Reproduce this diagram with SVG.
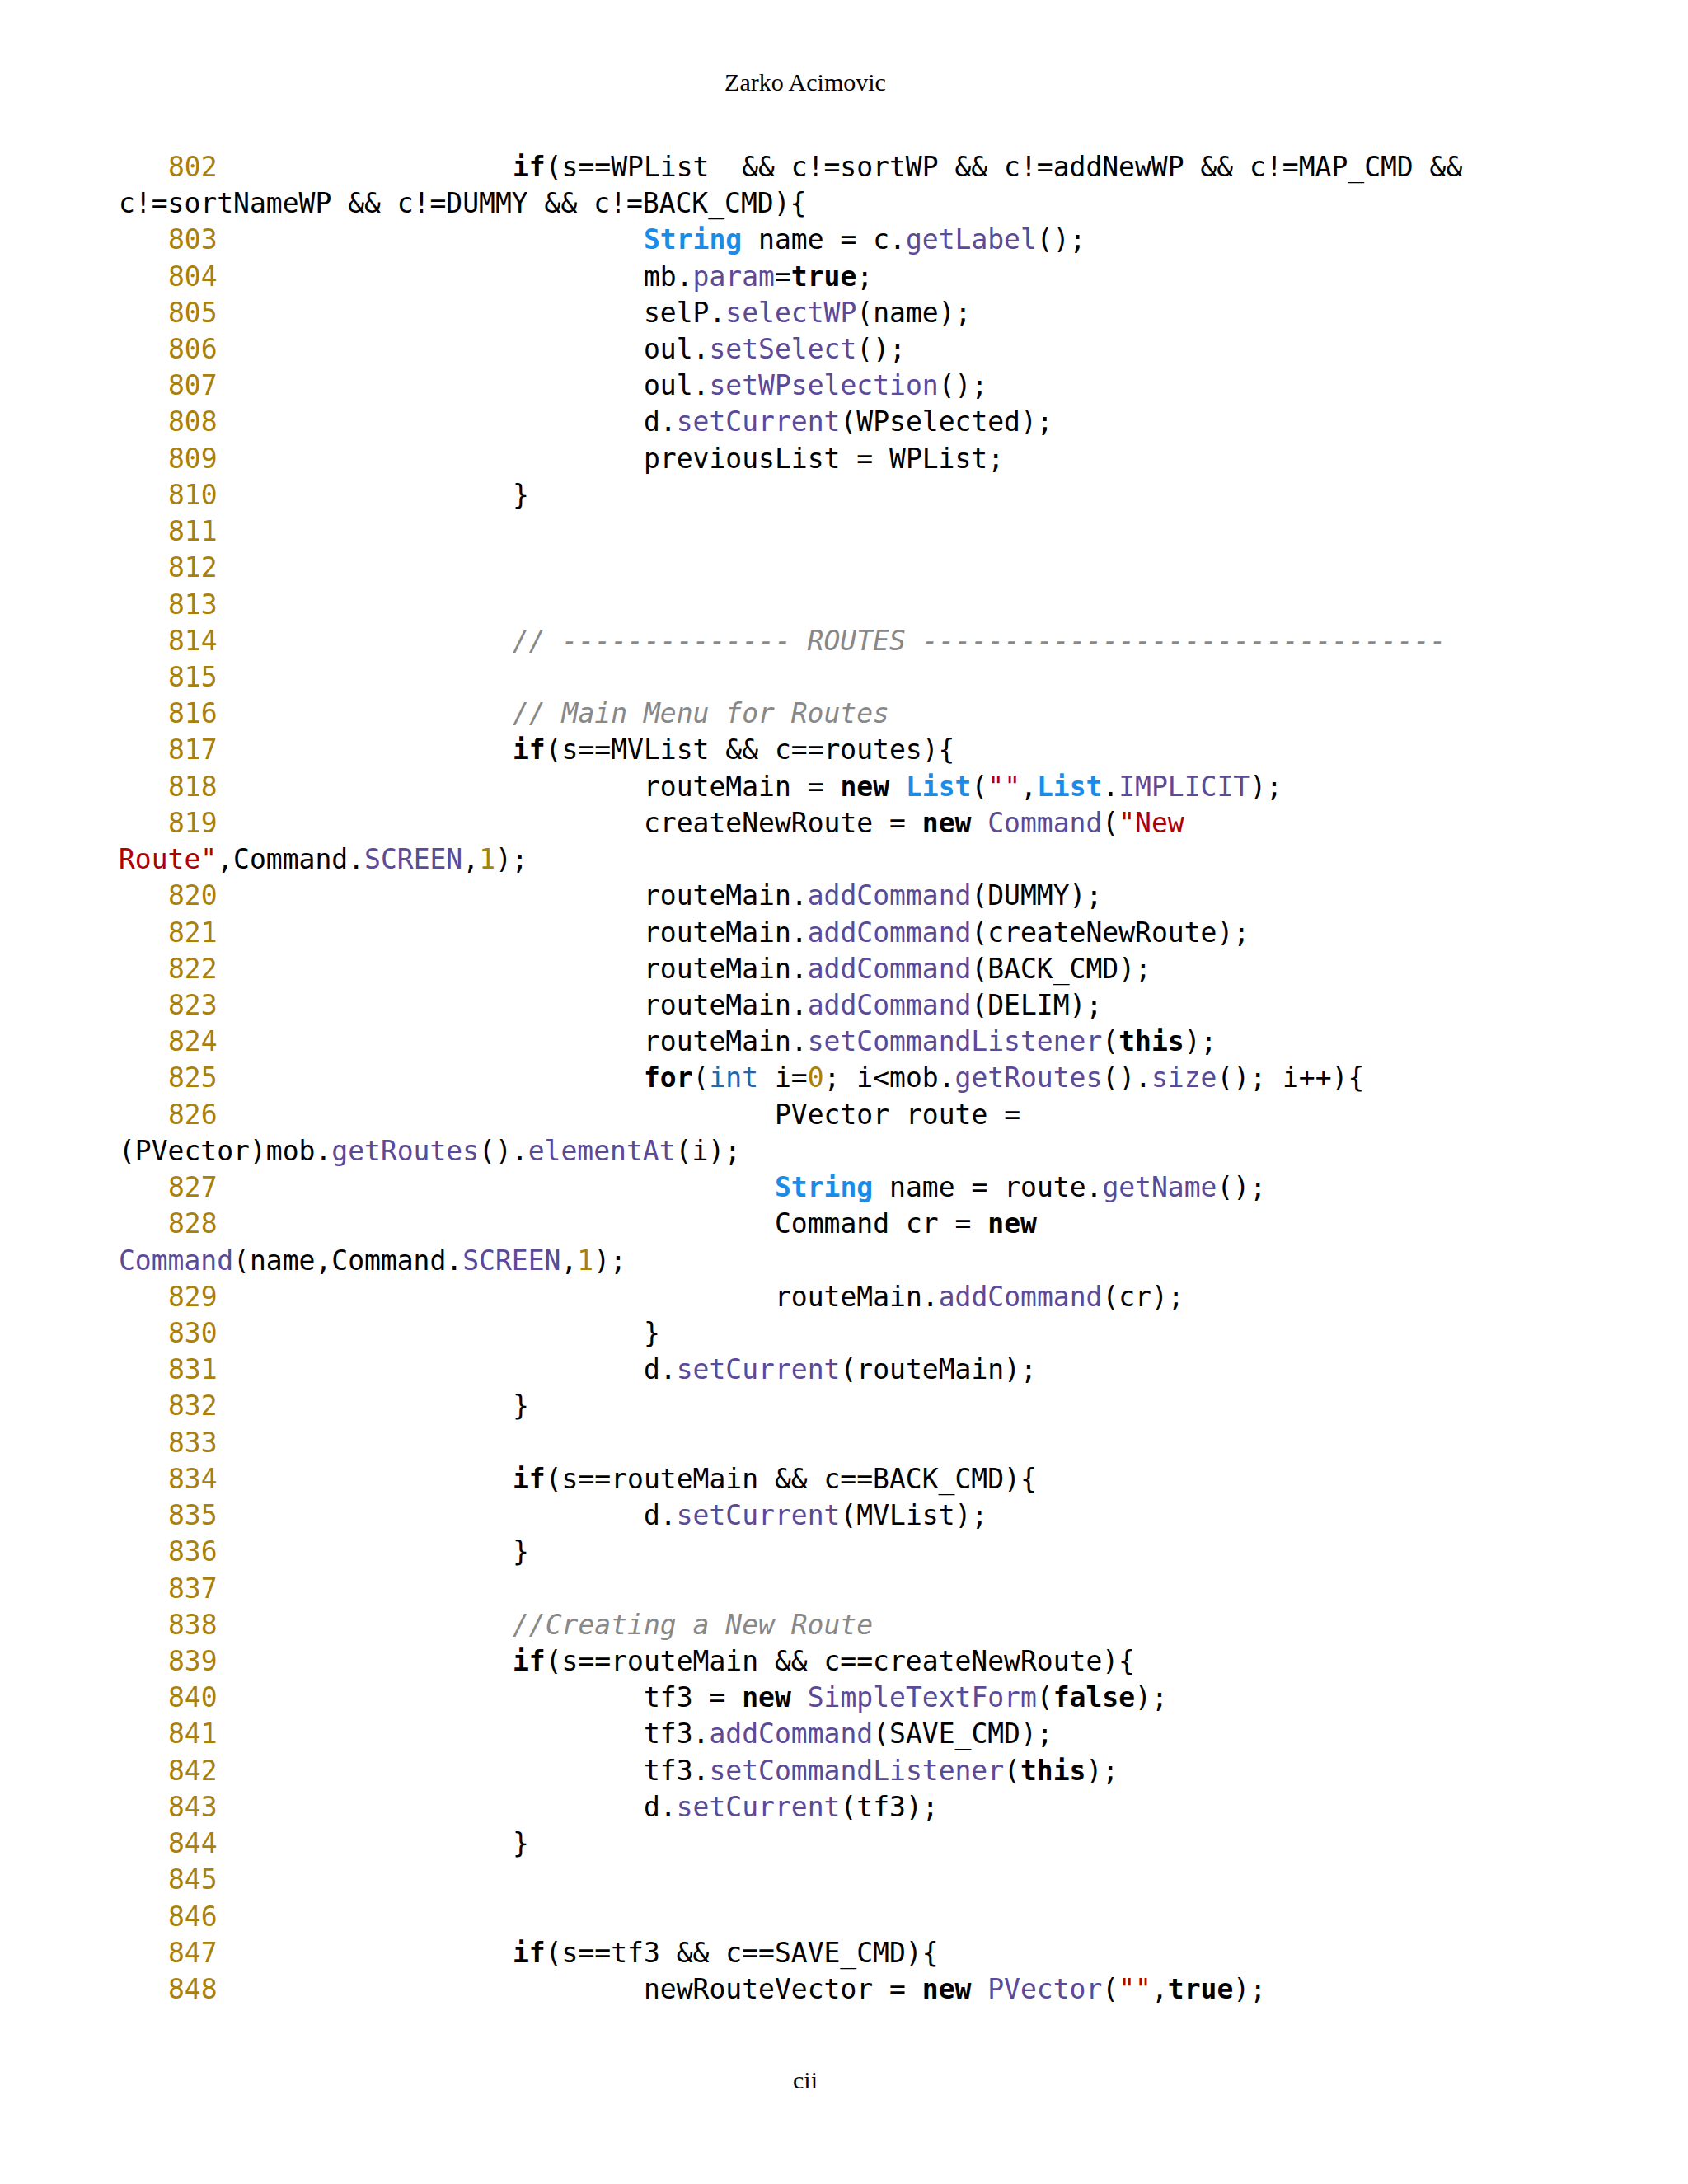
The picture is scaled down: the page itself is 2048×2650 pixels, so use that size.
<svg xmlns="http://www.w3.org/2000/svg" width="2048" height="2650" viewBox="0 0 2048 2650">
<style>
text{font-family:"DejaVu Sans Mono",monospace;font-size:33px;fill:#000;white-space:pre}
.ln{fill:#a8800a}
.n{fill:#a8800a}
.m{fill:#5a4a98}
.k{font-weight:bold}
.t{fill:#1a8ce8;font-weight:bold}
.i{fill:#2a64a8}
.s{fill:#b00000}
.c{fill:#888;font-style:italic}
.hd{font-family:"Liberation Serif",serif;font-size:30px}
</style>
<rect width="2048" height="2650" fill="#fff"/>
<text class="hd" x="977" y="110" text-anchor="middle">Zarko Acimovic</text>
<text class="hd" x="977" y="2534" text-anchor="middle">cii</text>
<g id="code" xml:space="preserve">
<text class="ln" x="204" y="214">802</text><text x="622" y="214"><tspan class="k">if</tspan>(s==WPList  &amp;&amp; c!=sortWP &amp;&amp; c!=addNewWP &amp;&amp; c!=MAP_CMD &amp;&amp;</text>
<text x="144" y="258">c!=sortNameWP &amp;&amp; c!=DUMMY &amp;&amp; c!=BACK_CMD){</text>
<text class="ln" x="204" y="302">803</text><text x="781" y="302"><tspan class="t">String</tspan> name = c.<tspan class="m">getLabel</tspan>();</text>
<text class="ln" x="204" y="347">804</text><text x="781" y="347">mb.<tspan class="m">param</tspan>=<tspan class="k">true</tspan>;</text>
<text class="ln" x="204" y="391">805</text><text x="781" y="391">selP.<tspan class="m">selectWP</tspan>(name);</text>
<text class="ln" x="204" y="435">806</text><text x="781" y="435">oul.<tspan class="m">setSelect</tspan>();</text>
<text class="ln" x="204" y="479">807</text><text x="781" y="479">oul.<tspan class="m">setWPselection</tspan>();</text>
<text class="ln" x="204" y="523">808</text><text x="781" y="523">d.<tspan class="m">setCurrent</tspan>(WPselected);</text>
<text class="ln" x="204" y="568">809</text><text x="781" y="568">previousList = WPList;</text>
<text class="ln" x="204" y="612">810</text><text x="622" y="612">}</text>
<text class="ln" x="204" y="656">811</text>
<text class="ln" x="204" y="700">812</text>
<text class="ln" x="204" y="745">813</text>
<text class="ln" x="204" y="789">814</text><text class="c" x="622" y="789">// -------------- ROUTES --------------------------------</text>
<text class="ln" x="204" y="833">815</text>
<text class="ln" x="204" y="877">816</text><text class="c" x="622" y="877">// Main Menu for Routes</text>
<text class="ln" x="204" y="921">817</text><text x="622" y="921"><tspan class="k">if</tspan>(s==MVList &amp;&amp; c==routes){</text>
<text class="ln" x="204" y="966">818</text><text x="781" y="966">routeMain = <tspan class="k">new</tspan> <tspan class="t">List</tspan>(<tspan class="s">""</tspan>,<tspan class="t">List</tspan>.<tspan class="m">IMPLICIT</tspan>);</text>
<text class="ln" x="204" y="1010">819</text><text x="781" y="1010">createNewRoute = <tspan class="k">new</tspan> <tspan class="m">Command</tspan>(<tspan class="s">"New</tspan></text>
<text x="144" y="1054"><tspan class="s">Route"</tspan>,Command.<tspan class="m">SCREEN</tspan>,<tspan class="n">1</tspan>);</text>
<text class="ln" x="204" y="1098">820</text><text x="781" y="1098">routeMain.<tspan class="m">addCommand</tspan>(DUMMY);</text>
<text class="ln" x="204" y="1143">821</text><text x="781" y="1143">routeMain.<tspan class="m">addCommand</tspan>(createNewRoute);</text>
<text class="ln" x="204" y="1187">822</text><text x="781" y="1187">routeMain.<tspan class="m">addCommand</tspan>(BACK_CMD);</text>
<text class="ln" x="204" y="1231">823</text><text x="781" y="1231">routeMain.<tspan class="m">addCommand</tspan>(DELIM);</text>
<text class="ln" x="204" y="1275">824</text><text x="781" y="1275">routeMain.<tspan class="m">setCommandListener</tspan>(<tspan class="k">this</tspan>);</text>
<text class="ln" x="204" y="1319">825</text><text x="781" y="1319"><tspan class="k">for</tspan>(<tspan class="i">int</tspan> i=<tspan class="n">0</tspan>; i&lt;mob.<tspan class="m">getRoutes</tspan>().<tspan class="m">size</tspan>(); i++){</text>
<text class="ln" x="204" y="1364">826</text><text x="940" y="1364">PVector route =</text>
<text x="144" y="1408">(PVector)mob.<tspan class="m">getRoutes</tspan>().<tspan class="m">elementAt</tspan>(i);</text>
<text class="ln" x="204" y="1452">827</text><text x="940" y="1452"><tspan class="t">String</tspan> name = route.<tspan class="m">getName</tspan>();</text>
<text class="ln" x="204" y="1496">828</text><text x="940" y="1496">Command cr = <tspan class="k">new</tspan></text>
<text x="144" y="1541"><tspan class="m">Command</tspan>(name,Command.<tspan class="m">SCREEN</tspan>,<tspan class="n">1</tspan>);</text>
<text class="ln" x="204" y="1585">829</text><text x="940" y="1585">routeMain.<tspan class="m">addCommand</tspan>(cr);</text>
<text class="ln" x="204" y="1629">830</text><text x="781" y="1629">}</text>
<text class="ln" x="204" y="1673">831</text><text x="781" y="1673">d.<tspan class="m">setCurrent</tspan>(routeMain);</text>
<text class="ln" x="204" y="1717">832</text><text x="622" y="1717">}</text>
<text class="ln" x="204" y="1762">833</text>
<text class="ln" x="204" y="1806">834</text><text x="622" y="1806"><tspan class="k">if</tspan>(s==routeMain &amp;&amp; c==BACK_CMD){</text>
<text class="ln" x="204" y="1850">835</text><text x="781" y="1850">d.<tspan class="m">setCurrent</tspan>(MVList);</text>
<text class="ln" x="204" y="1894">836</text><text x="622" y="1894">}</text>
<text class="ln" x="204" y="1939">837</text>
<text class="ln" x="204" y="1983">838</text><text class="c" x="622" y="1983">//Creating a New Route</text>
<text class="ln" x="204" y="2027">839</text><text x="622" y="2027"><tspan class="k">if</tspan>(s==routeMain &amp;&amp; c==createNewRoute){</text>
<text class="ln" x="204" y="2071">840</text><text x="781" y="2071">tf3 = <tspan class="k">new</tspan> <tspan class="m">SimpleTextForm</tspan>(<tspan class="k">false</tspan>);</text>
<text class="ln" x="204" y="2115">841</text><text x="781" y="2115">tf3.<tspan class="m">addCommand</tspan>(SAVE_CMD);</text>
<text class="ln" x="204" y="2160">842</text><text x="781" y="2160">tf3.<tspan class="m">setCommandListener</tspan>(<tspan class="k">this</tspan>);</text>
<text class="ln" x="204" y="2204">843</text><text x="781" y="2204">d.<tspan class="m">setCurrent</tspan>(tf3);</text>
<text class="ln" x="204" y="2248">844</text><text x="622" y="2248">}</text>
<text class="ln" x="204" y="2292">845</text>
<text class="ln" x="204" y="2337">846</text>
<text class="ln" x="204" y="2381">847</text><text x="622" y="2381"><tspan class="k">if</tspan>(s==tf3 &amp;&amp; c==SAVE_CMD){</text>
<text class="ln" x="204" y="2425">848</text><text x="781" y="2425">newRouteVector = <tspan class="k">new</tspan> <tspan class="m">PVector</tspan>(<tspan class="s">""</tspan>,<tspan class="k">true</tspan>);</text>
</g>
</svg>
